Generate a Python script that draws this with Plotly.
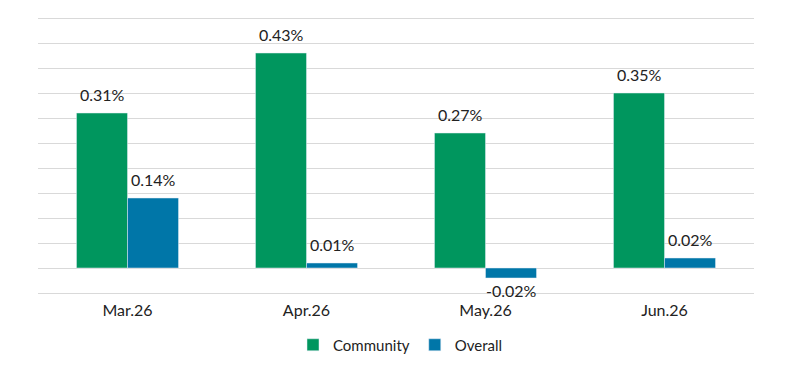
import plotly.graph_objects as go

categories = ["Mar.26", "Apr.26", "May.26", "Jun.26"]
community = [0.31, 0.43, 0.27, 0.35]
overall = [0.14, 0.01, -0.02, 0.02]

green = "#00965E"
blue = "#0076A8"
font_family = "Lato, Noto Sans, sans-serif"
label_size = 16

fig = go.Figure()
fig.add_trace(go.Bar(x=categories, y=community, name="Community", marker_color=green))
fig.add_trace(go.Bar(x=categories, y=overall, name="Overall", marker_color=blue))

# value labels (annotations anchored to the data points, offset to each bar of the group)
for series, shift in ((community, -25.5), (overall, 25.5)):
    for cat, v in zip(categories, series):
        fig.add_annotation(
            x=cat, y=v, xref="x", yref="y", text=f"{v:.2f}%", showarrow=False,
            xshift=shift, yanchor="bottom" if v >= 0 else "top",
            yshift=7 if v >= 0 else -1,
            font=dict(size=label_size, color="#222", family=font_family),
        )

fig.update_layout(
    width=801, height=369,
    margin=dict(l=38, r=47, t=14, b=73, autoexpand=False),
    paper_bgcolor="white", plot_bgcolor="white",
    barmode="group", bargap=0.43, bargroupgap=0,
    font=dict(family=font_family, size=label_size, color="#222"),
    showlegend=True,
    legend=dict(orientation="h", x=0.5, xanchor="center", xref="container",
                y=0.065, yref="container", yanchor="middle",
                font=dict(size=15), itemwidth=30, traceorder="normal"),
    xaxis=dict(showgrid=False, showline=False, ticks="", tickfont=dict(size=label_size),
               ticklabelstandoff=3, automargin=False),
    yaxis=dict(range=[-0.056, 0.508], dtick=0.05, tick0=0, showticklabels=False,
               showgrid=True, gridcolor="#d9d9d9", gridwidth=1, automargin=False,
               zeroline=True, zerolinecolor="#d9d9d9", zerolinewidth=1, showline=False),
)

fig.write_html("out.html")
